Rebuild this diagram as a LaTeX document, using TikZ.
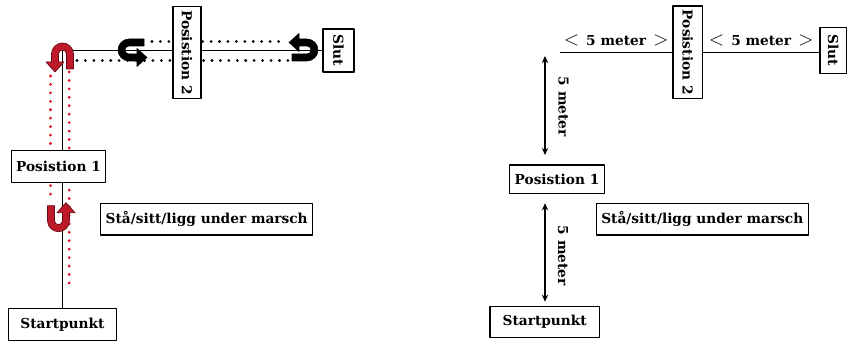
\documentclass[tikz,border=0pt]{standalone}
\usepackage{fontspec}
\setmainfont{DejaVu Serif}
\usetikzlibrary{arrows.meta,backgrounds}
\definecolor{uturnred}{RGB}{190,25,40}
\definecolor{uturnedge}{RGB}{105,10,20}
\definecolor{dotred}{RGB}{228,12,35}
\newcommand\distlabel{{\Large$<$}\hspace{5pt}5 meter\hspace{5pt}{\Large$>$}}
\tikzset{
	box/.style={draw, fill=white, line width=1pt, inner xsep=3.5pt, minimum height=22.5pt, font=\bfseries\fontsize{9.75}{12}\selectfont},
	lbl/.style={font=\bfseries\fontsize{9.75}{12}\selectfont, inner sep=0pt},
	dots/.style={line width=2.2pt, line cap=round, dash pattern=on 0pt off 6pt},
	uturn/.pic={
		\filldraw[pic actions] (4,-15) -- (11,-15) -- (11,0) arc[start angle=0,end angle=180,radius=11]
		-- (-11,-8) -- (-16.5,-8) -- (-7.5,-18) -- (1.5,-8) -- (-4,-8) -- (-4,0)
		arc[start angle=180,end angle=0,radius=4] -- cycle;
	}
}
\begin{document}
\begin{tikzpicture}[x=.025cm, y=.025cm, line join=round, >={Stealth[length=5pt,width=4.5pt]}]
	\useasboundingbox (0,0) rectangle (848,341);
	% left: the route
	\node[box, minimum width=77pt, minimum height=23pt] (startL) at (62.5,16.5) {Startpunkt};
	\node[box, minimum height=23pt] (p1L) at (58.5,174.5) {Posistion 1};
	\node[box] (staL) at (206.7,121.8) {Stå/sitt/ligg under marsch};
	\node[box, rotate=-90, minimum height=20pt, inner xsep=2.75pt] (p2L) at (187,288.5) {Posistion 2};
	\node[box, rotate=-90, minimum height=22pt, inner xsep=4.2pt] (slutL) at (338.5,290.5) {Slut};
	\coordinate (corner) at (62.5,290.5);
	\coordinate (rd1) at (50.5,265); \coordinate (rd2) at (50.5,144);
	\coordinate (rd3) at (69.2,269); \coordinate (rd4) at (69.2,51);
	\coordinate (bd1) at (152,299.5); \coordinate (bd2) at (286,299.5);
	\coordinate (bd3) at (77,280.5); \coordinate (bd4) at (288,280.5);
	\begin{scope}[on background layer]
		\draw[line width=1pt] (startL.north) -- (corner) -- (corner -| slutL.south);
		\draw[dots, dotred] (rd1) -- (rd2) (rd3) -- (rd4);
		\draw[dots] (bd1) -- (bd2) (bd3) -- (bd4);
	\end{scope}
	\pic[fill=uturnred, draw=uturnedge, line width=.5pt] at (62.5,287) {uturn};
	\pic[fill=uturnred, draw=uturnedge, line width=.5pt, rotate=180] at (58.5,120.3) {uturn};
	\pic[fill=black, rotate=90] at (129,291) {uturn};
	\pic[fill=black, rotate=-90] at (307,291) {uturn};
	
	% right: the distances
	\node[box, minimum width=78pt, minimum height=21.7pt] (startR) at (544.7,19) {Startpunkt};
	\node[box, minimum height=20pt] (p1R) at (557,161.8) {Posistion 1};
	\node[box] (staR) at (702.3,121.8) {Stå/sitt/ligg under marsch};
	\node[box, rotate=-90, minimum height=21pt, inner xsep=2.75pt] (p2R) at (687.7,288.7) {Posistion 2};
	\node[box, rotate=-90, minimum height=19pt, inner xsep=5pt] (slutR) at (833.3,290.5) {Slut};
	\coordinate (lineR) at (560,288.7);
	\draw[line width=1pt] (lineR) -- node[lbl, above=4pt] (d1) {\distlabel} (lineR -| p2R.south)
		(lineR -| p2R.north) -- node[lbl, above=4pt] (d2) {\distlabel} (lineR -| slutR.south);
	\coordinate (a1) at (545,285); \coordinate (a2) at (545,186);
	\coordinate (a3) at (545,137.7); \coordinate (a4) at (545,39.3);
	\draw[<->, line width=1pt] (a1) -- (a2);
	\draw[<->, line width=1pt] (a3) -- (a4);
	\node[lbl, rotate=-90] (m1) at (563.5,234.3) {5 meter};
	\node[lbl, rotate=-90] (m2) at (563,85.2) {5 meter};
\end{tikzpicture}
\end{document}
